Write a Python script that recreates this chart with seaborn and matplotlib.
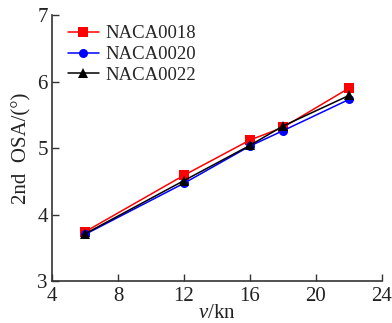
import matplotlib
matplotlib.use("Agg")
import matplotlib.pyplot as plt
import seaborn as sns
import pandas as pd

speed = [6, 12, 16, 18, 22]
naca0018 = [3.74, 4.59, 5.12, 5.31, 5.90]
naca0020 = [3.70, 4.47, 5.03, 5.26, 5.73]
naca0022 = [3.71, 4.51, 5.04, 5.33, 5.79]
series_names = ["NACA0018", "NACA0020", "NACA0022"]
xticks = [4, 8, 12, 16, 20, 24]
yticks = [3, 4, 5, 6, 7]

sns.set_style("ticks")
plt.rcParams['font.family'] = ['Liberation Serif', 'DejaVu Serif']
plt.rcParams['mathtext.fontset'] = 'custom'
plt.rcParams['mathtext.it'] = 'Liberation Serif:italic'
plt.rcParams['mathtext.rm'] = 'Liberation Serif'

df = pd.DataFrame({
    "v": speed * 3,
    "osa": naca0018 + naca0020 + naca0022,
    "name": [series_names[0]] * 5 + [series_names[1]] * 5 + [series_names[2]] * 5,
})

fig = plt.figure(figsize=(3.92, 3.23), dpi=100)
ax = fig.add_axes([52 / 392, 1 - 281 / 323, 330 / 392, 266 / 323])
palette = {"NACA0018": "#ff0000", "NACA0020": "#0000ff", "NACA0022": "#000000"}
markers = {"NACA0018": "s", "NACA0020": "o", "NACA0022": "^"}
sns.lineplot(data=df, x="v", y="osa", hue="name", style="name", palette=palette,
             markers=markers, dashes=False, markersize=6.5, markeredgewidth=0,
             linewidth=1.1, ax=ax)

ax.set_xlim(4, 24)
ax.set_ylim(3, 7)
ax.set_xticks(xticks)
ax.set_yticks(yticks)
ax.tick_params(direction='in', length=5, width=1, labelsize=15,
               colors='#333333', labelcolor='#222222')
ax.tick_params(axis='x', pad=4)
ax.tick_params(axis='y', pad=3)
for s in ['left', 'bottom']:
    ax.spines[s].set_linewidth(1.2)
    ax.spines[s].set_color('#333333')
ax.spines['top'].set_visible(False)
ax.spines['right'].set_visible(False)
ax.set_xlabel("$v$/kn", fontsize=15, labelpad=-1, color='#222222')
ax.set_ylabel("2nd  OSA/(°)", fontsize=15, labelpad=4, color='#222222')
leg = ax.legend(loc='upper left', bbox_to_anchor=(0.025, 0.99), frameon=False, fontsize=13.5,
                handlelength=1.65, handletextpad=0.35, labelspacing=0.2, borderaxespad=0)
leg.set_title(None)
fig.savefig("out.png", dpi=100, facecolor='white')
